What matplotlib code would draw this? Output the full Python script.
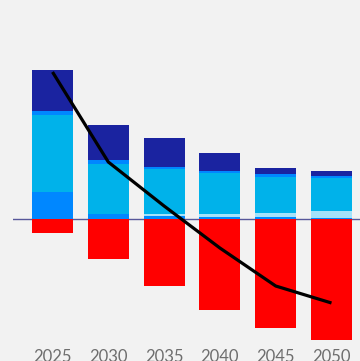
import matplotlib
matplotlib.use("Agg")
import matplotlib.pyplot as plt
import numpy as np

# Milestone years and stacked components (same units throughout)
years = ["2025", "2030", "2035", "2040", "2045", "2050"]
low_blue = [2.7, 0.5, 0.3, 0.2, 0.2, 0.15]
light_cyan = [0.0, 0.0, 0.2, 0.3, 0.4, 0.7]
cyan = [7.7, 5.0, 4.5, 4.1, 3.6, 3.3]
upper_blue = [0.4, 0.4, 0.2, 0.2, 0.3, 0.2]
navy = [4.1, 3.5, 2.9, 1.8, 0.6, 0.5]
removals = [-1.4, -4.0, -6.7, -9.1, -10.9, -12.1]
net_total = [14.7, 5.7, 1.3, -2.9, -6.7, -8.4]

colors = {
    "low_blue": "#0087ff",
    "light_cyan": "#a3e2fa",
    "cyan": "#00b2ea",
    "upper_blue": "#0087ff",
    "navy": "#1a23a0",
    "removals": "#ff0000",
}

bg = "#f2f2f2"
fig = plt.figure(figsize=(3.6, 3.61), dpi=100, facecolor=bg)
ax = fig.add_axes([13 / 360, 16 / 361, 347 / 360, 345 / 361])
ax.set_facecolor(bg)

x = np.arange(len(years))
width = 0.735

bottom = np.zeros(len(years))
for name, vals in [("low_blue", low_blue), ("light_cyan", light_cyan),
                   ("cyan", cyan), ("upper_blue", upper_blue), ("navy", navy)]:
    v = np.array(vals)
    ax.bar(x, v, width, bottom=bottom, color=colors[name], linewidth=0, zorder=2)
    bottom += v

ax.bar(x, removals, width, color=colors["removals"], linewidth=0, zorder=2)

ax.axhline(0, color="#57579a", linewidth=1.0, zorder=1.5)

ax.plot(x, net_total, color="black", linewidth=2.3, solid_joinstyle="round",
        solid_capstyle="butt", zorder=3)

ax.set_xlim(-0.708, 5.511)
ax.set_ylim(-12.6, 21.9)
ax.set_xticks(x)
ax.set_xticklabels(years, fontfamily="Lato", fontsize=12, color="#6e6e6e")
ax.tick_params(axis="x", length=0, pad=2.6)
ax.set_yticks([])
for s in ax.spines.values():
    s.set_visible(False)

fig.savefig("out.png", dpi=100, facecolor=bg)
